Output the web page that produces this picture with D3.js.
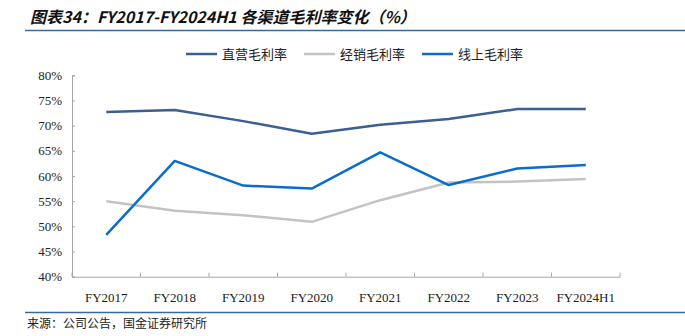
<!DOCTYPE html>
<html><head><meta charset="utf-8">
<script src="https://cdn.jsdelivr.net/npm/d3@7/dist/d3.min.js"></script>
<style>body{margin:0;background:#fff}svg{display:block}</style>
</head><body><svg id="c" width="685" height="336"></svg>
<script>
const categories = ["FY2017","FY2018","FY2019","FY2020","FY2021","FY2022","FY2023","FY2024H1"];
const directMargin = [72.7,73.1,70.9,68.4,70.2,71.3,73.3,73.3];
const distribMargin = [55.0,53.1,52.2,50.9,55.2,58.7,58.9,59.4];
const onlineMargin = [48.3,63.0,58.1,57.5,64.7,58.2,61.5,62.2];
const yTicks = [40,45,50,55,60,65,70,75,80];
const seriesNames = ["直营毛利率","经销毛利率","线上毛利率"];
const seriesColors = ["#3b5f93","#c3c3c3","#0b6bcf"];

const svg = d3.select("#c");
const serif = "'Liberation Serif','Times New Roman',serif";
const cjk = "'Noto Sans CJK SC',sans-serif";

// title
svg.append("text").attr("x",30).attr("y",23).attr("font-family",cjk)
  .attr("font-size",16).attr("font-weight","bold").attr("font-style","italic").attr("fill","#111")
  .text("图表34：FY2017-FY2024H1 各渠道毛利率变化（%）");
svg.append("line").attr("x1",25).attr("x2",685).attr("y1",30.5).attr("y2",30.5)
  .attr("stroke","#3a6a94").attr("stroke-width",1.5);
svg.append("line").attr("x1",25).attr("x2",685).attr("y1",312.5).attr("y2",312.5)
  .attr("stroke","#3a6a94").attr("stroke-width",1.5);
svg.append("text").attr("x",27).attr("y",328).attr("font-family",cjk)
  .attr("font-size",12).attr("fill","#222").text("来源：公司公告，国金证券研究所");

const x = d3.scaleBand().domain(categories).range([72,620]);
const y = d3.scaleLinear().domain([40,80]).range([276.7,75.3]);

// y axis
const ya = svg.append("g").attr("transform","translate(72,0)")
  .call(d3.axisLeft(y).tickValues(yTicks).tickFormat(d=>d+"%").tickSizeInner(-3).tickSizeOuter(-3).tickPadding(10));
ya.select(".domain").attr("stroke","#a6a6a6");
ya.selectAll(".tick line").attr("stroke","#a6a6a6");
ya.selectAll("text").attr("font-family",serif).attr("font-size",13).attr("fill","#222");

// x axis
const xa = svg.append("g").attr("transform","translate(0,"+y(40)+")")
  .call(d3.axisBottom(x).tickSize(0).tickPadding(16));
xa.select(".domain").attr("stroke","#a6a6a6");
xa.selectAll("text").attr("font-family",serif).attr("font-size",13).attr("fill","#222");
const bounds = categories.map(c=>x(c)).concat([x.range()[1]]);
xa.selectAll(".bt").data(bounds).enter().append("line")
  .attr("x1",d=>d).attr("x2",d=>d).attr("y1",0).attr("y2",-4).attr("stroke","#a6a6a6");

const series = [directMargin, distribMargin, onlineMargin];
const line = d3.line().x((d,i)=>x(categories[i])+x.bandwidth()/2).y(d=>y(d));
[1,0,2].forEach(k=>{
  svg.append("path").datum(series[k]).attr("d",line).attr("fill","none")
    .attr("stroke",seriesColors[k]).attr("stroke-width",2.5).attr("stroke-linejoin","round");
});

// legend
const legX = [186,304,422];
seriesNames.forEach((n,i)=>{
  svg.append("line").attr("x1",legX[i]).attr("x2",legX[i]+31).attr("y1",54).attr("y2",54)
    .attr("stroke",seriesColors[i]).attr("stroke-width",2.5);
  svg.append("text").attr("x",legX[i]+36).attr("y",58.5).attr("font-family",cjk)
    .attr("font-size",13).attr("fill","#222").text(n);
});
</script></body></html>
